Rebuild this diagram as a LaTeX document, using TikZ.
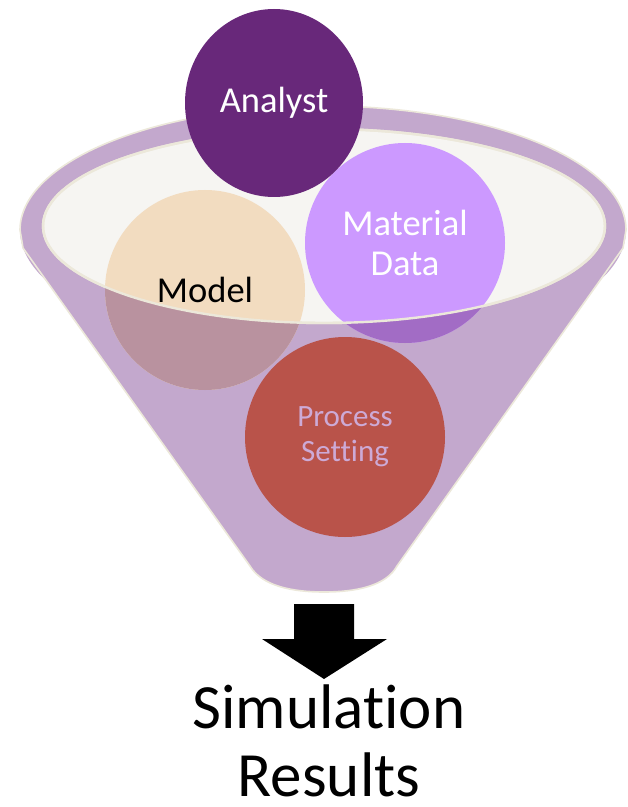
\documentclass[tikz,border=0pt]{standalone}
\usepackage{fontspec}
\setmainfont{Carlito}[Ligatures={NoCommon}]
\usetikzlibrary{shapes.geometric}
\definecolor{embudo}{HTML}{C3A8CD}
\definecolor{borde}{HTML}{ECE8DA}
\definecolor{interior}{HTML}{F6F5F2}
\definecolor{analista}{HTML}{68287A}
\definecolor{material}{HTML}{CC99FF}
\definecolor{materialosc}{HTML}{A26CC5}
\definecolor{modelo}{HTML}{F2DCC0}
\definecolor{modeloosc}{HTML}{B9929F}
\definecolor{proceso}{HTML}{B9534A}
\definecolor{procesotxt}{HTML}{CDAAD6}

\begin{document}
\begin{tikzpicture}[x=0.5pt, y=-0.5pt,
    bola/.style={circle, minimum size=100pt, inner sep=0pt, align=center,
        font=\fontsize{18.25}{20}\selectfont}]
    \useasboundingbox (0,0) rectangle (627,807);

    % Embudo (fondo)
    \fill[embudo] (323,230) ellipse [x radius=303, y radius=124];
    \fill[embudo] (20,232) -- (23,248) -- (250,566)
        .. controls (262,586) and (292,592) .. (324,592)
        .. controls (356,592) and (386,586) .. (397,566)
        -- (623,248) -- (626,232) -- cycle;
    \draw[borde, line width=0.8pt] (20,230) arc [start angle=180, end angle=360, x radius=303, y radius=124];
    \draw[borde, line width=0.8pt] (20,230) -- (23,248) -- (250,566)
        .. controls (262,586) and (292,592) .. (324,592)
        .. controls (356,592) and (386,586) .. (397,566)
        -- (623,248) -- (626,230);

    % Boca del embudo
    \filldraw[fill=interior, draw=borde, line width=1.2pt] (324,226) ellipse [x radius=281, y radius=97];

    % Circulos dentro
    \node[bola, fill=modelo] (model) at (205,290) {Model};
    \node[bola, fill=material, text=white] (material) at (405,243) {Material\\Data};

    % Partes tapadas por el embudo
    \begin{scope}
        \clip (model.center) circle [radius=100];
        \fill[modeloosc, even odd rule] (0,0) rectangle (627,807)
            (324,226) ellipse [x radius=281, y radius=97];
    \end{scope}
    \begin{scope}
        \clip (material.center) circle [radius=100];
        \fill[materialosc, even odd rule] (0,0) rectangle (627,807)
            (324,226) ellipse [x radius=281, y radius=97];
    \end{scope}
    \draw[borde, line width=1.2pt] (324,226) ellipse [x radius=281, y radius=97];

    \node[bola, ellipse, minimum width=89pt, minimum height=94pt, fill=analista, text=white] (analyst) at (274,103) {Analyst};
    \node[bola, fill=proceso, text=procesotxt, font=\fontsize{15.5}{17.5}\selectfont] (process) at (345,437) {Process\\Setting};

    % Flecha y resultado
    \fill[black] (294,604) -- (354,604) -- (354,639) -- (387,639) -- (324,679)
        -- (262,639) -- (294,639) -- cycle;
    \node[font=\fontsize{31.5}{34}\selectfont, align=center, inner sep=0pt] (results) at (329,741) {Simulation\\Results};
\end{tikzpicture}
\end{document}
